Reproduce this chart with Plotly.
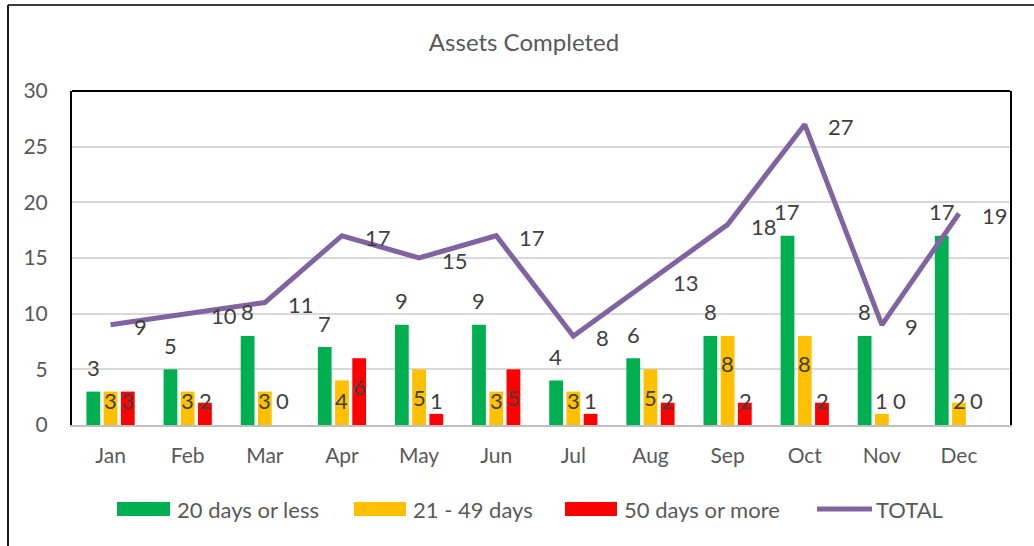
import plotly.graph_objects as go

months = ["Jan", "Feb", "Mar", "Apr", "May", "Jun", "Jul", "Aug", "Sep", "Oct", "Nov", "Dec"]
days_20_or_less = [3, 5, 8, 7, 9, 9, 4, 6, 8, 17, 8, 17]
days_21_49 = [3, 3, 3, 4, 5, 3, 3, 5, 8, 8, 1, 2]
days_50_plus = [3, 2, 0, 6, 1, 5, 1, 2, 2, 2, 0, 0]
total = [9, 10, 11, 17, 15, 17, 8, 13, 18, 27, 9, 19]
y_ticks = [0, 5, 10, 15, 20, 25, 30]

GREEN = "#00B050"
YELLOW = "#FFC000"
RED = "#FF0000"
PURPLE = "#8064A2"
AXIS_TXT = "#595959"
LABEL_TXT = "#404040"
FONT = "Lato"

W, H = 1034, 546
L, R, T, B = 72, 24, 91, 121
PW = W - L - R
PH = H - T - B
Y_MAX = 30
PX_PER_UNIT = PH / Y_MAX


def px_x(px):
    return (px - L) / PW


def px_y(py):
    return (H - B - py) / PH


fig = go.Figure()
fig.add_trace(go.Bar(x=months, y=days_20_or_less, name="20 days or less",
                     marker=dict(color=GREEN, line=dict(width=0))))
fig.add_trace(go.Bar(x=months, y=days_21_49, name="21 - 49 days",
                     marker=dict(color=YELLOW, line=dict(width=0))))
fig.add_trace(go.Bar(x=months, y=days_50_plus, name="50 days or more",
                     marker=dict(color=RED, line=dict(width=0))))
fig.add_trace(go.Scatter(x=months, y=total, name="TOTAL", mode="lines",
                         line=dict(color=PURPLE, width=5)))

annotations = []
label_font = dict(family=FONT, size=22, color=LABEL_TXT)
slot_px = 17.4
for i, m in enumerate(months):
    # green labels above bar
    annotations.append(dict(x=m, y=days_20_or_less[i], xref="x", yref="y", text=str(days_20_or_less[i]),
                            showarrow=False, xshift=-slot_px, yshift=24, font=label_font))
    # yellow and red labels near the inside end of bars
    for vals, shift in ((days_21_49, 0), (days_50_plus, slot_px)):
        v = vals[i]
        ylab = max(v - 28 / PX_PER_UNIT, 25 / PX_PER_UNIT)
        annotations.append(dict(x=m, y=ylab, xref="x", yref="y", text=str(v),
                                showarrow=False, xshift=shift, font=label_font))
    # total labels to the right
    annotations.append(dict(x=m, y=total[i], xref="x", yref="y", text=str(total[i]),
                            showarrow=False, xanchor="left", xshift=21, yshift=-2, font=label_font))

# custom legend
legend_y = 509
legend_font = dict(family=FONT, size=22, color=AXIS_TXT)
shapes = []
legend_items = [
    ("rect", GREEN, 117, 170, 175, "20 days or less"),
    ("rect", YELLOW, 354, 406, 411, "21 - 49 days"),
    ("rect", RED, 565, 617, 622, "50 days or more"),
    ("line", PURPLE, 817, 872, 874, "TOTAL"),
]
for kind, col, x0, x1, tx, txt in legend_items:
    if kind == "rect":
        shapes.append(dict(type="rect", xref="paper", yref="paper",
                           x0=px_x(x0), x1=px_x(x1), y0=px_y(legend_y + 7), y1=px_y(legend_y - 7),
                           fillcolor=col, line=dict(width=0)))
    else:
        shapes.append(dict(type="line", xref="paper", yref="paper",
                           x0=px_x(x0), x1=px_x(x1), y0=px_y(legend_y), y1=px_y(legend_y),
                           line=dict(color=col, width=5)))
    annotations.append(dict(x=px_x(tx), y=px_y(legend_y), xref="paper", yref="paper", text=txt,
                            showarrow=False, xanchor="left", yanchor="middle", font=legend_font))

# plot area top border
shapes.append(dict(type="line", xref="paper", yref="paper", x0=0, x1=1, y0=1, y1=1,
                   line=dict(color="black", width=2)))
# outer chart frame (top and left)
shapes.append(dict(type="line", xref="paper", yref="paper", x0=px_x(8), x1=px_x(1040), y0=px_y(5), y1=px_y(5),
                   line=dict(color="#3a3a3a", width=2)))
shapes.append(dict(type="line", xref="paper", yref="paper", x0=px_x(8), x1=px_x(8), y0=px_y(5), y1=px_y(560),
                   line=dict(color="#1a1a1a", width=2)))

fig.update_layout(
    width=W, height=H,
    margin=dict(l=L, r=R, t=T, b=B, pad=0),
    paper_bgcolor="white", plot_bgcolor="white",
    barmode="group", bargap=0.33, bargroupgap=0.2,
    showlegend=False,
    title=dict(text="Assets Completed", x=524 / W, xref="container", xanchor="center",
               y=1 - 43 / H, yref="container", yanchor="middle",
               font=dict(family=FONT, size=24, color=AXIS_TXT)),
    font=dict(family=FONT, color=AXIS_TXT),
    annotations=annotations,
    shapes=shapes,
)
fig.update_xaxes(showgrid=False, showline=True, linecolor="#BFBFBF", linewidth=2,
                 tickfont=dict(family=FONT, size=21, color=AXIS_TXT), ticks="",
                 ticklabelstandoff=11)
fig.update_yaxes(range=[0, Y_MAX], tickvals=y_ticks, showgrid=True, gridcolor="#D9D9D9", gridwidth=1.5,
                 showline=True, linecolor="black", linewidth=2, mirror=True, zeroline=False,
                 tickfont=dict(family=FONT, size=21, color=AXIS_TXT), ticks="",
                 ticklabelstandoff=18)

fig.write_html("out.html", config={"displayModeBar": False},
               post_script="document.body.style.margin='0';document.body.style.padding='0';")
